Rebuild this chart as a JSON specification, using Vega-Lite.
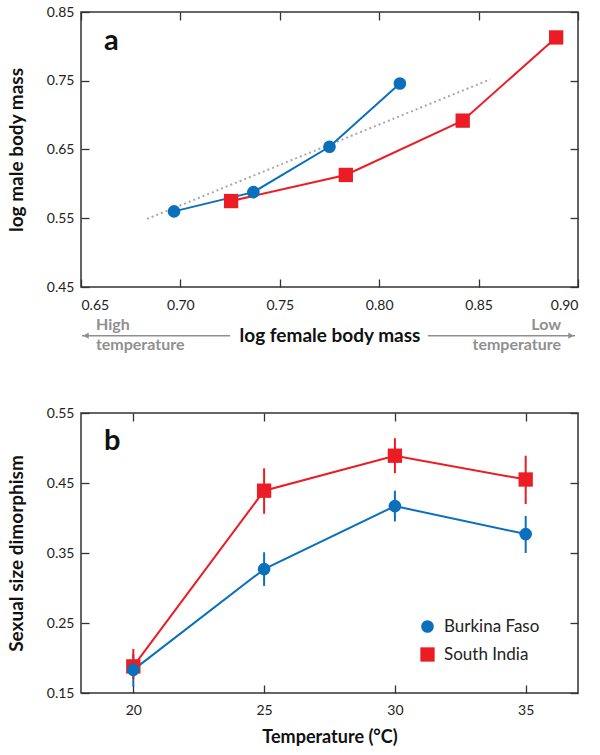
{
  "$schema": "https://vega.github.io/schema/vega-lite/v6.json",
  "padding": {"left": 6, "top": 4, "right": 5, "bottom": 5},
  "background": "white",
  "bounds": "flush",
  "spacing": 126,
  "datasets": {
    "a_pts": [
      {"site": "South India", "female": 0.7255, "male": 0.575},
      {"site": "South India", "female": 0.7832, "male": 0.613},
      {"site": "South India", "female": 0.842, "male": 0.692},
      {"site": "South India", "female": 0.889, "male": 0.813},
      {"site": "Burkina Faso", "female": 0.6968, "male": 0.56},
      {"site": "Burkina Faso", "female": 0.7367, "male": 0.588},
      {"site": "Burkina Faso", "female": 0.775, "male": 0.654},
      {"site": "Burkina Faso", "female": 0.8104, "male": 0.746}
    ],
    "a_ref": [
      {"female": 0.6832, "male": 0.549},
      {"female": 0.8558, "male": 0.752}
    ],
    "a_arrows": [
      {"dir": "left", "x": 0.6505, "x2": 0.725, "y": 0.3792, "head": 0.6525},
      {"dir": "right", "x": 0.8245, "x2": 0.8985, "y": 0.3792, "head": 0.8965}
    ],
    "a_notes": [
      {"side": "left", "x": 0.6575, "y": 0.3869, "text": "High"},
      {"side": "left", "x": 0.6575, "y": 0.3578, "text": "temperature"},
      {"side": "right", "x": 0.8915, "y": 0.3869, "text": "Low"},
      {"side": "right", "x": 0.8915, "y": 0.3578, "text": "temperature"}
    ],
    "a_label": [{"x": 0.6616, "y": 0.7941, "label": "a"}],
    "b_pts": [
      {"site": "South India", "temp": 20, "ssd": 0.188, "lo": 0.17, "hi": 0.213},
      {"site": "South India", "temp": 25, "ssd": 0.439, "lo": 0.406, "hi": 0.471},
      {"site": "South India", "temp": 30, "ssd": 0.489, "lo": 0.464, "hi": 0.514},
      {"site": "South India", "temp": 35, "ssd": 0.455, "lo": 0.42, "hi": 0.489},
      {"site": "Burkina Faso", "temp": 20, "ssd": 0.183, "lo": 0.159, "hi": 0.205},
      {"site": "Burkina Faso", "temp": 25, "ssd": 0.327, "lo": 0.303, "hi": 0.351},
      {"site": "Burkina Faso", "temp": 30, "ssd": 0.417, "lo": 0.395, "hi": 0.439},
      {"site": "Burkina Faso", "temp": 35, "ssd": 0.377, "lo": 0.35, "hi": 0.403}
    ],
    "b_label": [{"x": 18.88, "y": 0.4966, "label": "b"}]
  },
  "vconcat": [
    {
      "width": 497,
      "height": 275,
      "resolve": {"scale": {"x": "independent", "y": "independent"}},
      "layer": [
        {
          "layer": [
            {
              "data": {"name": "a_ref"},
              "mark": {"type": "line", "color": "#a8a8a8", "strokeDash": [2, 3], "strokeWidth": 2},
              "encoding": {
                "x": {"field": "female", "type": "quantitative", "scale": {"domain": [0.65, 0.9], "nice": false, "zero": false},
                  "axis": {"orient": "bottom", "values": [0.65, 0.7, 0.75, 0.8, 0.85, 0.9], "format": ".2f", "labelPadding": 19, "titlePadding": 14, "title": "log female body mass", "titleFontSize": 19}},
                "y": {"field": "male", "type": "quantitative", "scale": {"domain": [0.45, 0.85], "nice": false, "zero": false},
                  "axis": {"orient": "left", "values": [0.45, 0.55, 0.65, 0.75, 0.85], "format": ".2f", "labelPadding": 15, "titlePadding": 20, "title": "log male body mass", "titleFontSize": 19}}
              }
            },
            {
              "data": {"name": "a_pts"},
              "transform": [{"filter": "datum.site === 'Burkina Faso'"}],
              "mark": {"type": "line", "strokeWidth": 2, "color": "#0a70bb"},
              "encoding": {
                "x": {"field": "female", "type": "quantitative"},
                "y": {"field": "male", "type": "quantitative"}
              }
            },
            {
              "data": {"name": "a_pts"},
              "transform": [{"filter": "datum.site === 'South India'"}],
              "mark": {"type": "line", "strokeWidth": 2, "color": "#ec1c24"},
              "encoding": {
                "x": {"field": "female", "type": "quantitative"},
                "y": {"field": "male", "type": "quantitative"}
              }
            },
            {
              "data": {"name": "a_pts"},
              "transform": [{"filter": "datum.site === 'South India'"}],
              "mark": {"type": "point", "filled": true, "opacity": 1, "shape": "square", "size": 205, "color": "#ec1c24"},
              "encoding": {
                "x": {"field": "female", "type": "quantitative"},
                "y": {"field": "male", "type": "quantitative"}
              }
            },
            {
              "data": {"name": "a_pts"},
              "transform": [{"filter": "datum.site === 'Burkina Faso'"}],
              "mark": {"type": "point", "filled": true, "opacity": 1, "shape": "circle", "size": 160, "color": "#0a70bb"},
              "encoding": {
                "x": {"field": "female", "type": "quantitative"},
                "y": {"field": "male", "type": "quantitative"}
              }
            },
            {
              "data": {"name": "a_arrows"},
              "mark": {"type": "rule", "color": "#8f8f8f", "strokeWidth": 1.5},
              "encoding": {
                "x": {"field": "x", "type": "quantitative"},
                "x2": {"field": "x2"},
                "y": {"field": "y", "type": "quantitative"}
              }
            },
            {
              "data": {"name": "a_arrows"},
              "transform": [{"filter": "datum.dir === 'left'"}],
              "mark": {"type": "point", "filled": true, "color": "#8f8f8f", "opacity": 1, "size": 40, "shape": "triangle-left"},
              "encoding": {
                "x": {"field": "head", "type": "quantitative"},
                "y": {"field": "y", "type": "quantitative"}
              }
            },
            {
              "data": {"name": "a_arrows"},
              "transform": [{"filter": "datum.dir === 'right'"}],
              "mark": {"type": "point", "filled": true, "color": "#8f8f8f", "opacity": 1, "size": 40, "shape": "triangle-right"},
              "encoding": {
                "x": {"field": "head", "type": "quantitative"},
                "y": {"field": "y", "type": "quantitative"}
              }
            },
            {
              "data": {"name": "a_notes"},
              "transform": [{"filter": "datum.side === 'left'"}],
              "mark": {"type": "text", "align": "left", "baseline": "alphabetic", "font": "Lato", "fontSize": 16, "fontWeight": "bold", "color": "#909090"},
              "encoding": {
                "x": {"field": "x", "type": "quantitative"},
                "y": {"field": "y", "type": "quantitative"},
                "text": {"field": "text"}
              }
            },
            {
              "data": {"name": "a_notes"},
              "transform": [{"filter": "datum.side === 'right'"}],
              "mark": {"type": "text", "align": "right", "baseline": "alphabetic", "font": "Lato", "fontSize": 16, "fontWeight": "bold", "color": "#909090"},
              "encoding": {
                "x": {"field": "x", "type": "quantitative"},
                "y": {"field": "y", "type": "quantitative"},
                "text": {"field": "text"}
              }
            }
          ]
        },
        {
          "data": {"name": "a_label"},
          "mark": {"type": "text", "align": "left", "baseline": "alphabetic", "font": "Lato", "fontSize": 29, "fontWeight": "bold", "color": "#111"},
          "encoding": {
            "x": {"field": "x", "type": "quantitative", "scale": {"domain": [0.65, 0.9], "nice": false, "zero": false},
              "axis": {"orient": "top", "labels": false, "title": null, "values": [0.65, 0.7, 0.75, 0.8, 0.85, 0.9]}},
            "y": {"field": "y", "type": "quantitative", "scale": {"domain": [0.45, 0.85], "nice": false, "zero": false},
              "axis": {"orient": "right", "labels": false, "title": null, "values": [0.45, 0.55, 0.65, 0.75, 0.85]}},
            "text": {"field": "label"}
          }
        }
      ]
    },
    {
      "width": 497,
      "height": 280,
      "resolve": {"scale": {"x": "independent", "y": "independent"}},
      "layer": [
        {
          "layer": [
            {
              "data": {"name": "b_pts"},
              "transform": [{"filter": "datum.site === 'Burkina Faso'"}],
              "mark": {"type": "rule", "strokeWidth": 2, "color": "#0a70bb"},
              "encoding": {
                "x": {"field": "temp", "type": "quantitative", "scale": {"domain": [18, 37], "nice": false, "zero": false},
                  "axis": {"orient": "bottom", "values": [20, 25, 30, 35], "labelPadding": 18, "titlePadding": 11, "title": "Temperature (°C)"}},
                "y": {"field": "lo", "type": "quantitative", "scale": {"domain": [0.15, 0.55], "nice": false, "zero": false},
                  "axis": {"orient": "left", "values": [0.15, 0.25, 0.35, 0.45, 0.55], "format": ".2f", "labelPadding": 15, "titlePadding": 20, "title": "Sexual size dimorphism", "titleFontSize": 19}},
                "y2": {"field": "hi"}
              }
            },
            {
              "data": {"name": "b_pts"},
              "transform": [{"filter": "datum.site === 'South India'"}],
              "mark": {"type": "rule", "strokeWidth": 2, "color": "#ec1c24"},
              "encoding": {
                "x": {"field": "temp", "type": "quantitative"},
                "y": {"field": "lo", "type": "quantitative"},
                "y2": {"field": "hi"}
              }
            },
            {
              "data": {"name": "b_pts"},
              "transform": [{"filter": "datum.site === 'Burkina Faso'"}],
              "mark": {"type": "line", "strokeWidth": 2, "color": "#0a70bb"},
              "encoding": {
                "x": {"field": "temp", "type": "quantitative"},
                "y": {"field": "ssd", "type": "quantitative"}
              }
            },
            {
              "data": {"name": "b_pts"},
              "transform": [{"filter": "datum.site === 'South India'"}],
              "mark": {"type": "line", "strokeWidth": 2, "color": "#ec1c24"},
              "encoding": {
                "x": {"field": "temp", "type": "quantitative"},
                "y": {"field": "ssd", "type": "quantitative"}
              }
            },
            {
              "data": {"name": "b_pts"},
              "mark": {"type": "point", "filled": true, "opacity": 1},
              "encoding": {
                "x": {"field": "temp", "type": "quantitative"},
                "y": {"field": "ssd", "type": "quantitative"},
                "color": {"field": "site", "type": "nominal", "scale": {"domain": ["Burkina Faso", "South India"], "range": ["#0a70bb", "#ec1c24"]},
                  "legend": {"orient": "none", "legendX": 338, "legendY": 606, "padding": 0, "title": null, "labelOffset": 8, "rowPadding": 10, "labelFont": "Lato", "labelFontSize": 17, "labelColor": "#222", "symbolSize": 180}},
                "shape": {"field": "site", "type": "nominal", "scale": {"domain": ["Burkina Faso", "South India"], "range": ["circle", "square"]},
                  "legend": {"orient": "none", "legendX": 338, "legendY": 606, "padding": 0, "title": null, "labelOffset": 8, "rowPadding": 10, "labelFont": "Lato", "labelFontSize": 17, "labelColor": "#222", "symbolSize": 180}},
                "size": {"field": "site", "type": "nominal", "scale": {"domain": ["Burkina Faso", "South India"], "range": [160, 205]}, "legend": null}
              }
            }
          ]
        },
        {
          "data": {"name": "b_label"},
          "mark": {"type": "text", "align": "left", "baseline": "alphabetic", "font": "Lato", "fontSize": 29, "fontWeight": "bold", "color": "#111"},
          "encoding": {
            "x": {"field": "x", "type": "quantitative", "scale": {"domain": [18, 37], "nice": false, "zero": false},
              "axis": {"orient": "top", "labels": false, "title": null, "values": [20, 25, 30, 35]}},
            "y": {"field": "y", "type": "quantitative", "scale": {"domain": [0.15, 0.55], "nice": false, "zero": false},
              "axis": {"orient": "right", "labels": false, "title": null, "values": [0.15, 0.25, 0.35, 0.45, 0.55]}},
            "text": {"field": "label"}
          }
        }
      ]
    }
  ],
  "config": {
    "font": "Lato",
    "view": {"stroke": "#333333", "strokeWidth": 1.5},
    "axis": {
      "grid": false,
      "domain": false,
      "tickColor": "#333333",
      "tickWidth": 1.3,
      "tickSize": -8,
      "labelFont": "Lato",
      "labelFontSize": 14,
      "labelColor": "#222222",
      "titleFont": "Lato",
      "titleFontSize": 18,
      "titleFontWeight": "bold",
      "titleColor": "#111111"
    }
  }
}
